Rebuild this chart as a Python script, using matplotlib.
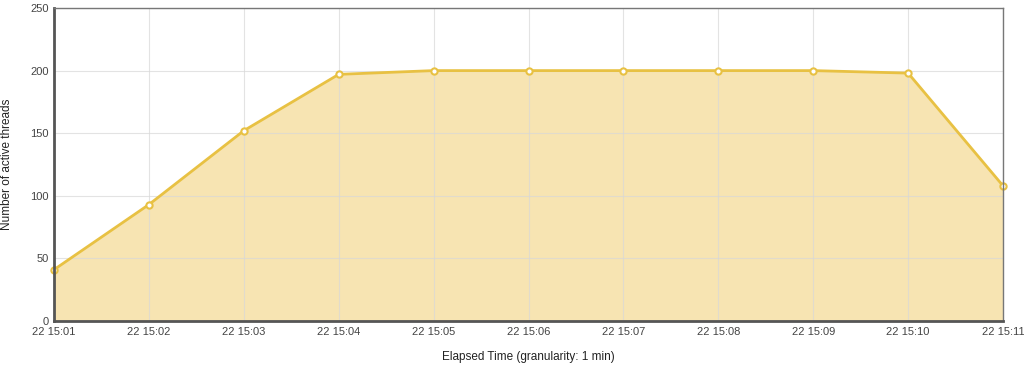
import matplotlib
matplotlib.use("Agg")
import matplotlib.pyplot as plt

plt.rcParams['font.family'] = ['Liberation Sans', 'DejaVu Sans']

times = ["22 15:01", "22 15:02", "22 15:03", "22 15:04", "22 15:05", "22 15:06",
         "22 15:07", "22 15:08", "22 15:09", "22 15:10", "22 15:11"]
threads = [41, 93, 152, 197, 200, 200, 200, 200, 200, 198, 108]
yticks = [0, 50, 100, 150, 200, 250]

fig = plt.figure(figsize=(10.24, 3.73), dpi=100)
ax = fig.add_axes([54/1024, 52/373, (1003-54)/1024, (321-8)/373])

x = list(range(len(times)))
ax.fill_between(x, threads, 0, color='#f7e4b2', zorder=1)
ax.plot(x, threads, color='#e8c143', lw=2, zorder=3,
        marker='o', markersize=4.5, markerfacecolor='white', markeredgecolor='#e8c143',
        markeredgewidth=1.5, clip_on=False)

ax.set_xlim(0, len(times)-1)
ax.set_ylim(0, 250)
ax.set_xticks(x)
ax.set_xticklabels(times)
ax.set_yticks(yticks)
ax.grid(True, color='#d8d8d8', lw=0.8, zorder=2)
for gl in ax.get_xgridlines() + ax.get_ygridlines():
    gl.set_zorder(2)
    gl.set_alpha(0.7)
ax.tick_params(length=0, labelsize=8, colors='#444444', pad=4)
for s in ['top', 'right']:
    ax.spines[s].set_color('#777777')
    ax.spines[s].set_linewidth(1)
for s in ['left', 'bottom']:
    ax.spines[s].set_color('#555555')
    ax.spines[s].set_linewidth(2)
for s in ax.spines.values():
    s.set_zorder(4)

fig.text(528/1024, 1 - 357/373, "Elapsed Time (granularity: 1 min)", fontsize=8.5,
         color='#222222', ha='center', va='center')
fig.text(7/1024, 1 - 164/373, "Number of active threads", fontsize=8.5,
         color='#222222', ha='center', va='center', rotation=90)

fig.savefig("out.png", dpi=100)
